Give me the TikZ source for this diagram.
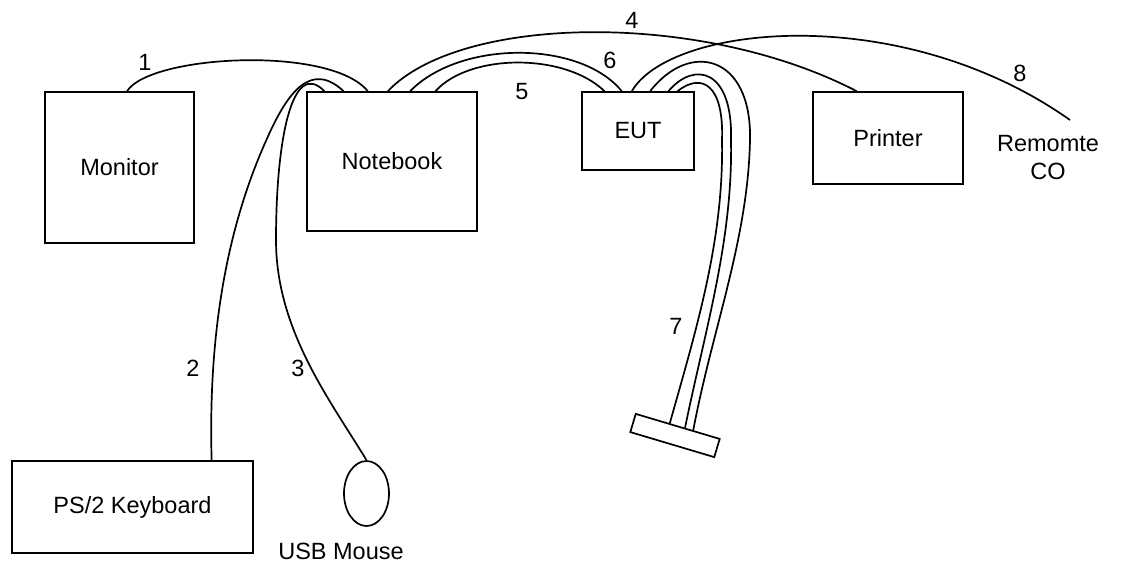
\documentclass[tikz,border=0pt]{standalone}
\usepackage{fontspec}
\setmainfont{Liberation Sans}
\usetikzlibrary{calc, shapes.geometric, positioning}

\tikzset{
  unit/.style={draw, line width=1.7pt, inner sep=0pt, font=\fontsize{23.5}{28}\selectfont},
  cable/.style={line width=1.7pt},
  lbl/.style={inner sep=0pt, font=\fontsize{23.5}{28}\selectfont}
}

\begin{document}
\begin{tikzpicture}[x=1pt, y=-1pt]
    \useasboundingbox (0,0) rectangle (1133,562);
    % 1. Devices
    \node[unit, minimum width=149pt, minimum height=151pt] (monitor) at (119.5,167.5) {Monitor};
    \node[unit, minimum width=170pt, minimum height=139pt] (notebook) at (392,161.5) {Notebook};
    \node[unit, minimum width=112pt, minimum height=78pt] (eut) at (638,131) {EUT};
    \node[unit, minimum width=150pt, minimum height=92pt] (printer) at (888,138) {Printer};
    \node[unit, minimum width=241pt, minimum height=92pt] (keyboard) at (132.5,507) {PS/2 Keyboard};
    \node[unit, ellipse, minimum width=45pt, minimum height=65pt] (mouse) at (366.5,493.5) {};
    \node[unit, minimum width=87.6pt, minimum height=19pt, rotate=-16.6] (plug) at (675,435.5) {};
    \node[lbl] (mouselbl) at (341,551) {USB Mouse};
    \node[lbl, align=center] (remote) at (1048,158) {Remomte\\CO};

    % 2. Cable ends
    \coordinate (m1) at ($(monitor.north west)!0.55!(monitor.north east)$);
    \coordinate (k1) at ($(keyboard.north west)!0.826!(keyboard.north east)$);
    \coordinate (n1) at ($(notebook.north west)!0.106!(notebook.north east)$);
    \coordinate (n2) at ($(notebook.north west)!0.218!(notebook.north east)$);
    \coordinate (n3) at ($(notebook.north west)!0.359!(notebook.north east)$);
    \coordinate (n4) at ($(notebook.north west)!0.476!(notebook.north east)$);
    \coordinate (n5) at ($(notebook.north west)!0.606!(notebook.north east)$);
    \coordinate (n6) at ($(notebook.north west)!0.753!(notebook.north east)$);
    \coordinate (e1) at ($(eut.north west)!0.205!(eut.north east)$);
    \coordinate (e2) at ($(eut.north west)!0.357!(eut.north east)$);
    \coordinate (e3) at ($(eut.north west)!0.446!(eut.north east)$);
    \coordinate (e4) at ($(eut.north west)!0.607!(eut.north east)$);
    \coordinate (e5) at ($(eut.north west)!0.768!(eut.north east)$);
    \coordinate (e6) at ($(eut.north west)!0.848!(eut.north east)$);
    \coordinate (p1) at ($(printer.north west)!0.293!(printer.north east)$);
    \coordinate (g1) at ($(plug.north west)!0.405!(plug.north east)$);
    \coordinate (g2) at ($(plug.north west)!0.583!(plug.north east)$);
    \coordinate (g3) at ($(plug.north west)!0.679!(plug.north east)$);
    \coordinate (rc) at (1070,120);

    % 3. Cables
    \draw[cable] (m1) .. controls (150,55) and (330,45) .. (n3);
    \draw[cable] (k1) .. controls (208,330) and (228,230) .. (262,150)
        .. controls (280,108) and (305,55) .. (n2);
    \draw[cable] (mouse.north) .. controls (330,400) and (276,330) .. (276,240)
        .. controls (276,140) and (292,58) .. (n1);
    \draw[cable] (n4) .. controls (460,15) and (700,10) .. (p1);
    \draw[cable] (n6) .. controls (470,53) and (565,53) .. (e1);
    \draw[cable] (n5) .. controls (460,40) and (580,40) .. (e2);
    \draw[cable] (e3) .. controls (670,25) and (900,0) .. (rc);
    \draw[cable] (e4) .. controls (690,40) and (752,55) .. (750,140)
        .. controls (748,240) and (712,330) .. (g3);
    \draw[cable] (e5) .. controls (695,60) and (733,70) .. (731,140)
        .. controls (733,240) and (705,330) .. (g2);
    \draw[cable] (e6) .. controls (702,72) and (724,85) .. (722,140)
        .. controls (724,240) and (696,330) .. (g1);

    % 4. Cable numbers
    \node[lbl] (c1) at (145,62) {1};
    \node[lbl] (c2) at (193,368) {2};
    \node[lbl] (c3) at (298,368) {3};
    \node[lbl] (c4) at (632,20) {4};
    \node[lbl] (c5) at (522,92) {5};
    \node[lbl] (c6) at (610,60) {6};
    \node[lbl] (c7) at (676,326) {7};
    \node[lbl] (c8) at (1020,73) {8};
\end{tikzpicture}
\end{document}
